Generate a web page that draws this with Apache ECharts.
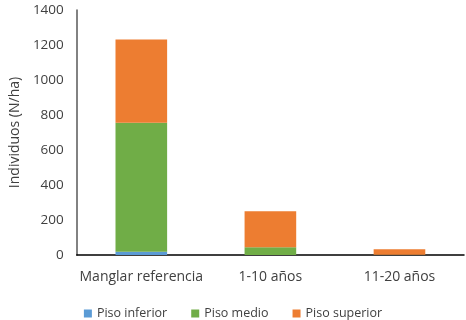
<!DOCTYPE html>
<html>
<head>
<meta charset="utf-8">
<script src="https://cdn.jsdelivr.net/npm/echarts@6/dist/echarts.min.js"></script>
<style>
  html, body { margin: 0; padding: 0; background: #fff; }
  #chart { width: 466px; height: 320px; }
</style>
</head>
<body>
<div id="chart"></div>
<script>
const categories = ['Manglar referencia', '1-10 años', '11-20 años']
const pisoInferior = [18, 0, 0]
const pisoMedio = [738, 44, 2]
const pisoSuperior = [476, 206, 31]
const yTicks = [0, 200, 400, 600, 800, 1000, 1200, 1400]

const font = 'Open Sans, sans-serif'
const chart = echarts.init(document.getElementById('chart'))

function bar (name, data, color) {
  return {
    name,
    type: 'bar',
    stack: 'total',
    barWidth: '40%',
    itemStyle: { color },
    data
  }
}

chart.setOption({
  animation: false,
  grid: { left: 72, right: 2, top: 10, bottom: 65 },
  legend: {
    top: 302,
    left: 'center',
    itemWidth: 8,
    itemHeight: 8,
    itemGap: 24,
    icon: 'rect',
    textStyle: { fontFamily: font, fontSize: 12.5, color: '#404040' },
    data: ['Piso inferior', 'Piso medio', 'Piso superior']
  },
  xAxis: {
    type: 'category',
    data: categories,
    axisLine: { lineStyle: { color: '#000', width: 1.5 } },
    axisTick: { show: false },
    axisLabel: { interval: 0, fontFamily: font, fontSize: 14, color: '#404040', margin: 15 }
  },
  yAxis: {
    type: 'value',
    min: yTicks[0],
    max: yTicks[yTicks.length - 1],
    interval: 200,
    name: 'Individuos (N/ha)',
    nameLocation: 'middle',
    nameGap: 48,
    nameTextStyle: { fontFamily: font, fontSize: 14, color: '#404040' },
    axisLine: { show: true, lineStyle: { color: '#595959', width: 1.5 } },
    axisTick: { show: false },
    splitLine: { show: false },
    axisLabel: { fontFamily: font, fontSize: 13.5, color: '#404040', margin: 13, formatter: v => String(v) }
  },
  series: [
    bar('Piso inferior', pisoInferior, '#5B9BD5'),
    bar('Piso medio', pisoMedio, '#70AD47'),
    bar('Piso superior', pisoSuperior, '#ED7D31')
  ]
})
</script>
</body>
</html>
